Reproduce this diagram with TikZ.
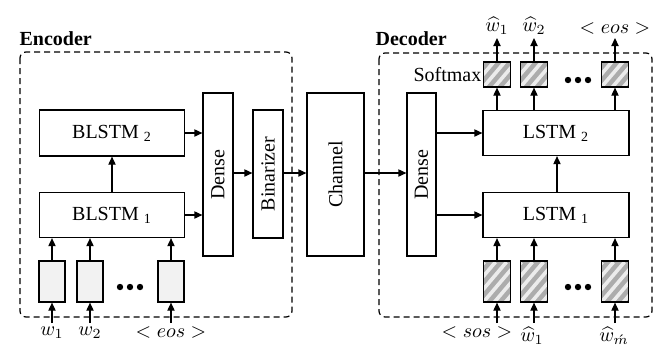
\documentclass[tikz,border=0pt]{standalone}
\usepackage{fontspec}
\setmainfont{Liberation Serif}
\usetikzlibrary{arrows.meta}

\begin{document}
\begin{tikzpicture}[x=0.5pt,y=-0.5pt,line width=0.6pt,font=\fontsize{10}{12}\selectfont,
  >={Triangle[length=4pt,width=3.6pt]},
  box/.style={draw,inner sep=0pt},
  lbl/.style={inner sep=1.5pt}]
\tikzstyle{frame} = [draw,rounded corners=3pt,dash pattern=on 3pt off 2pt]
\tikzstyle{inbox} = [draw,fill=gray!10,inner sep=0pt,minimum width=13pt,minimum height=20.5pt]
\tikzstyle{hatchbox} = [draw,fill=gray!65,inner sep=0pt,minimum width=13.5pt,
  path picture={\foreach \k in {-7,...,3}
    \draw[gray!15,line width=1.8pt] ([xshift=\k*5.5pt]path picture bounding box.south west) -- ++(34,-40);}]

\useasboundingbox (0,0) rectangle (659,345);

% frames
\draw[frame] (20,52) rectangle (292,317);
\draw[frame] (379,53) rectangle (652,317);
\node[anchor=base west,inner sep=0pt,font=\fontsize{10}{12}\selectfont\bfseries] (enclbl) at (19,45) {Encoder};
\node[anchor=base west,inner sep=0pt,font=\fontsize{10}{12}\selectfont\bfseries] (declbl) at (375,45) {Decoder};

% encoder
\node[box,minimum width=72.5pt,minimum height=23pt] (blstm2) at (112,133) {BLSTM \textsubscript{2}};
\node[box,minimum width=72.5pt,minimum height=22.5pt] (blstm1) at (112,215) {BLSTM \textsubscript{1}};
\node[box,minimum width=15pt,minimum height=81.5pt] (denseE) at (218,174.5) {\rotatebox{90}{Dense}};
\node[box,minimum width=15pt,minimum height=64pt] (binar) at (268,174) {\rotatebox{90}{Binarizer}};
\node[box,minimum width=28.5pt,minimum height=81.5pt] (channel) at (335.5,174.5) {\rotatebox{90}{Channel}};

\node[inbox] (inE1) at (52,281.5) {};
\node[inbox] (inE2) at (90,281.5) {};
\node[inbox] (inE3) at (171,281.5) {};
\foreach \x in {120,130,140} \fill (\x,287) circle (1.6pt);

\node[lbl,anchor=north] (w1) at (52,323) {$w_1$};
\node[lbl,anchor=north] (w2) at (90,323) {$w_2$};
\node[lbl,anchor=north] (eosE) at (171,323) {$<eos>$};

\draw[->] (w1.north) -- (inE1.south);
\draw[->] (w2.north) -- (inE2.south);
\draw[->] (eosE.north) -- (inE3.south);
\foreach \n in {inE1,inE2,inE3}
  \draw[->] (\n.north) -- (\n.north |- blstm1.south);
\draw[->] (blstm1) -- (blstm2);
\draw[->] (blstm2.east) -- (blstm2.east -| denseE.west);
\draw[->] (blstm1.east) -- (blstm1.east -| denseE.west);
\draw[->] (denseE.east |- 0,173) -- (binar.west |- 0,173);
\draw[->] (binar.east |- 0,173) -- (channel.west |- 0,173);

% decoder
\node[box,minimum width=14.5pt,minimum height=81.5pt] (denseD) at (421.5,174.5) {\rotatebox{90}{Dense}};
\node[box,minimum width=73pt,minimum height=22.5pt] (lstm2) at (556,133) {LSTM \textsubscript{2}};
\node[box,minimum width=73pt,minimum height=22.5pt] (lstm1) at (556,215) {LSTM \textsubscript{1}};

\node[hatchbox,minimum height=20.5pt] (inD1) at (497,281.5) {};
\node[hatchbox,minimum height=20.5pt] (inD2) at (534,281.5) {};
\node[hatchbox,minimum height=20.5pt] (inD3) at (615,281.5) {};
\foreach \x in {568,578,588} \fill (\x,287) circle (1.6pt);

\node[hatchbox,minimum height=12.5pt] (sm1) at (497,74.5) {};
\node[hatchbox,minimum height=12.5pt] (sm2) at (534,74.5) {};
\node[hatchbox,minimum height=12.5pt] (sm3) at (615,74.5) {};
\foreach \x in {568,578,588} \fill (\x,80) circle (1.6pt);
\node[anchor=east,inner sep=0.5pt] (smlbl) at (sm1.west) {Softmax};

\node[lbl,anchor=north] (sos) at (477,323) {$<sos>$};
\node[lbl,anchor=north] (wh1) at (532,323) {$\widehat{w}_1$};
\node[lbl,anchor=north] (whm) at (614,323) {$\widehat{w}_{\acute{m}}$};

\node[lbl,anchor=south] (out1) at (497,38) {$\widehat{w}_1$};
\node[lbl,anchor=south] (out2) at (534,38) {$\widehat{w}_2$};
\node[lbl,anchor=south] (out3) at (615,38) {$<eos>$};

\draw[->] (channel.east |- 0,173) -- (denseD.west |- 0,173);
\draw[->] (denseD.east |- lstm2) -- (lstm2.west);
\draw[->] (denseD.east |- lstm1) -- (lstm1.west);
\draw[->] (lstm1.north -| 557,0) -- (lstm2.south -| 557,0);

\draw[->] (sos.north -| inD1) -- (inD1.south);
\draw[->] (wh1.north -| inD2) -- (inD2.south);
\draw[->] (whm.north -| inD3) -- (inD3.south);
\foreach \n in {inD1,inD2,inD3}
  \draw[->] (\n.north) -- (\n.north |- lstm1.south);
\foreach \n in {sm1,sm2,sm3}
  \draw[->] (\n.south |- lstm2.north) -- (\n.south);
\draw[->] (sm1.north) -- (out1.south);
\draw[->] (sm2.north) -- (out2.south);
\draw[->] (sm3.north) -- (out3.south);

\end{tikzpicture}
\end{document}
